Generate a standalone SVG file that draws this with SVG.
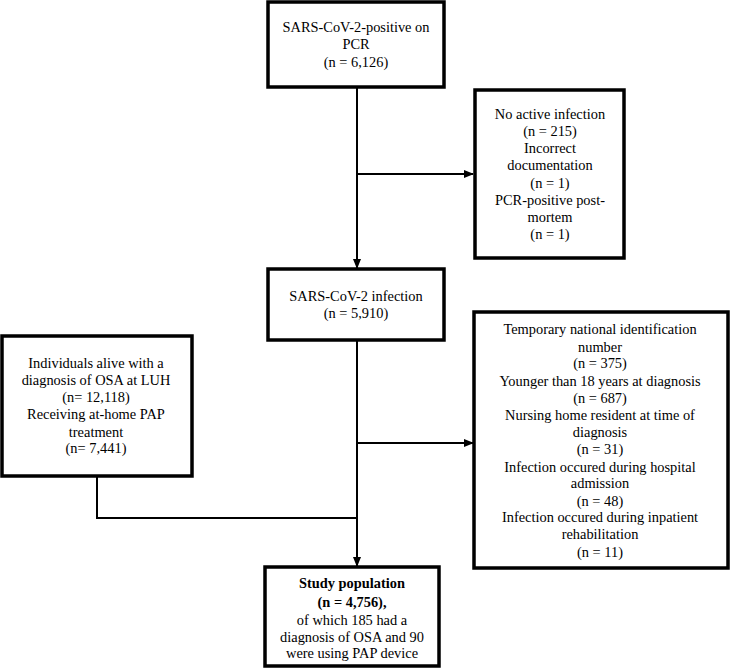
<svg xmlns="http://www.w3.org/2000/svg" width="730" height="668" viewBox="0 0 730 668">
<style>
.box{fill:#fff;stroke:#000;stroke-width:3.5}
.t{font-family:"Liberation Serif","Times New Roman",serif;font-size:14.4px;fill:#000;text-anchor:middle}
.b{font-weight:bold}
.ln{fill:none;stroke:#000;stroke-width:2}
</style>
<defs>
<marker id="ah" markerWidth="10" markerHeight="8" refX="9" refY="4" orient="auto" markerUnits="userSpaceOnUse">
<path d="M0,0 L10,4 L0,8 Z" fill="#000"/>
</marker>
</defs>
<rect width="730" height="668" fill="#fff"/>
<g id="connectors">
<line class="ln" x1="357" y1="87" x2="357" y2="268" marker-end="url(#ah)"/>
<line class="ln" x1="357" y1="174" x2="473" y2="174" marker-end="url(#ah)"/>
<line class="ln" x1="357" y1="340" x2="357" y2="566" marker-end="url(#ah)"/>
<line class="ln" x1="357" y1="443" x2="473" y2="443" marker-end="url(#ah)"/>
<polyline class="ln" points="97,476 97,518 357,518"/>
</g>
<g id="n1">
<rect class="box" x="268" y="2" width="176" height="85"/>
<text class="t" x="356" y="32">SARS-CoV-2-positive on</text>
<text class="t" x="356" y="49">PCR</text>
<text class="t" x="356" y="67">(n = 6,126)</text>
</g>
<g id="n2">
<rect class="box" x="475" y="90" width="149" height="168"/>
<text class="t" x="550" y="119">No active infection</text>
<text class="t" x="550" y="136">(n = 215)</text>
<text class="t" x="550" y="153">Incorrect</text>
<text class="t" x="550" y="170">documentation</text>
<text class="t" x="550" y="188">(n = 1)</text>
<text class="t" x="550" y="205">PCR-positive post-</text>
<text class="t" x="550" y="222">mortem</text>
<text class="t" x="550" y="239">(n = 1)</text>
</g>
<g id="n3">
<rect class="box" x="268" y="269" width="176" height="71"/>
<text class="t" x="356" y="301">SARS-CoV-2 infection</text>
<text class="t" x="356" y="318">(n = 5,910)</text>
</g>
<g id="n4">
<rect class="box" x="2" y="336" width="190" height="140"/>
<text class="t" x="96" y="368">Individuals alive with a</text>
<text class="t" x="96" y="385">diagnosis of OSA at LUH</text>
<text class="t" x="96" y="402">(n= 12,118)</text>
<text class="t" x="96" y="419">Receiving at-home PAP</text>
<text class="t" x="96" y="437">treatment</text>
<text class="t" x="96" y="453">(n= 7,441)</text>
</g>
<g id="n5">
<rect class="box" x="474" y="312" width="254" height="256"/>
<text class="t" x="600" y="334">Temporary national identification</text>
<text class="t" x="600" y="352">number</text>
<text class="t" x="600" y="368">(n = 375)</text>
<text class="t" x="600" y="386">Younger than 18 years at diagnosis</text>
<text class="t" x="600" y="403">(n = 687)</text>
<text class="t" x="600" y="420">Nursing home resident at time of</text>
<text class="t" x="600" y="437">diagnosis</text>
<text class="t" x="600" y="454">(n = 31)</text>
<text class="t" x="600" y="472">Infection occured during hospital</text>
<text class="t" x="600" y="488">admission</text>
<text class="t" x="600" y="506">(n = 48)</text>
<text class="t" x="600" y="522">Infection occured during inpatient</text>
<text class="t" x="600" y="539">rehabilitation</text>
<text class="t" x="600" y="557">(n = 11)</text>
</g>
<g id="n6">
<rect class="box" x="265" y="567" width="174" height="99"/>
<text class="t b" x="352" y="588">Study population</text>
<text class="t b" x="352" y="607">(n = 4,756),</text>
<text class="t" x="352" y="625">of which 185 had a</text>
<text class="t" x="352" y="642">diagnosis of OSA and 90</text>
<text class="t" x="352" y="658">were using PAP device</text>
</g>
</svg>
